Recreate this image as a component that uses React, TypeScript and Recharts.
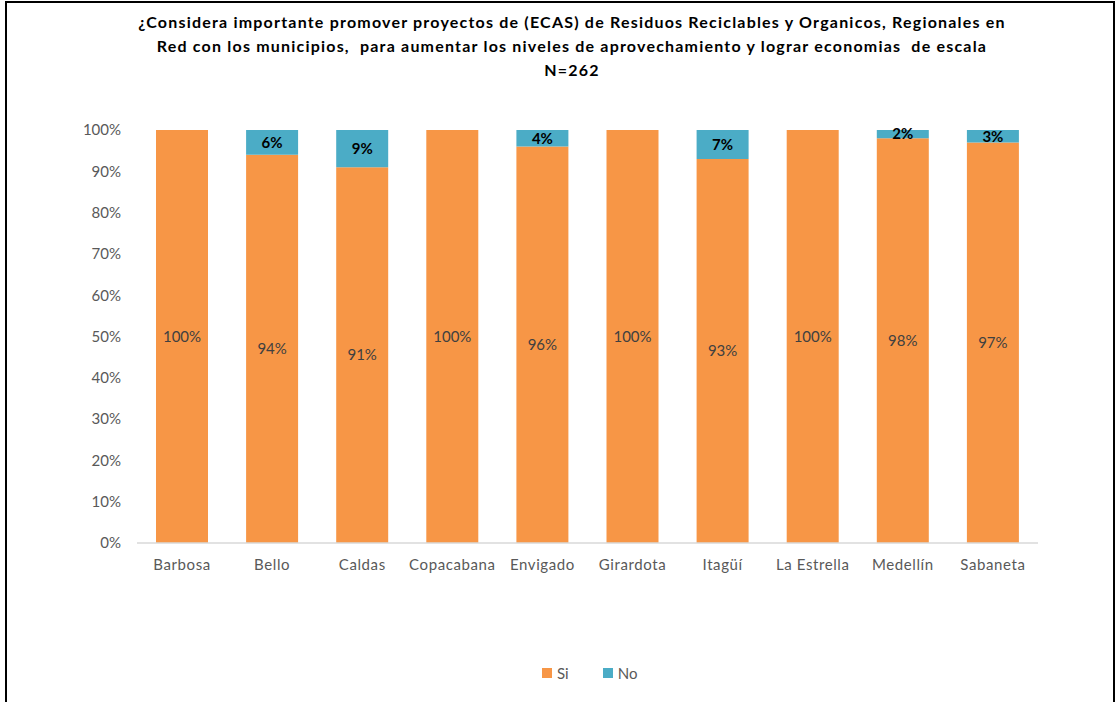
import { Bar, BarChart, LabelList, Legend, XAxis, YAxis } from 'recharts'

const categories = ['Barbosa', 'Bello', 'Caldas', 'Copacabana', 'Envigado', 'Girardota', 'Itagüí', 'La Estrella', 'Medellín', 'Sabaneta']
const siValues = [100, 94, 91, 100, 96, 100, 93, 100, 98, 97]
const noValues = [0, 6, 9, 0, 4, 0, 7, 0, 2, 3]
const yTicks = [0, 10, 20, 30, 40, 50, 60, 70, 80, 90, 100]
const seriesOrder = ['Si', 'No']
const titleLines = [
  '¿Considera importante promover proyectos de (ECAS) de Residuos Reciclables y Organicos, Regionales en',
  'Red con los municipios,  para aumentar los niveles de aprovechamiento y lograr economias  de escala',
  'N=262',
]

const FONT = 'Lato, "Open Sans", sans-serif'
const ORANGE = '#F79646'
const BLUE = '#4BACC6'
const GRAY = '#595959'

const data = categories.map((name, i) => ({ name, si: siValues[i], no: noValues[i] }))

export default function App() {
  return (
    <div style={{ position: 'absolute', left: 0, top: 0, width: 1115, height: 702, overflow: 'hidden', background: '#fff', fontFamily: FONT }}>
      <div style={{
        position: 'absolute',
        left: 5,
        top: 1,
        width: 1106,
        height: 740,
        border: '2px solid #000',
      }} />
      <div style={{
        position: 'absolute',
        left: 72,
        top: 10,
        width: 1000,
        textAlign: 'center',
        fontWeight: 700,
        fontSize: 16,
        letterSpacing: 1.2,
        lineHeight: '24px',
        color: '#000',
      }}>
        {titleLines.map(line => <div key={line} style={{ whiteSpace: 'pre' }}>{line}</div>)}
      </div>
      <BarChart
        width={1115}
        height={702}
        data={data}
        margin={{ top: 130, right: 77, bottom: 18, left: 77 }}
        barSize={52}
        style={{ position: 'absolute', left: 0, top: 0 }}
      >
        <XAxis
          dataKey="name"
          height={121}
          tickLine={false}
          axisLine={{ stroke: '#D9D9D9', strokeWidth: 1.5 }}
          tick={{ fontSize: 15, fill: GRAY, fontFamily: FONT, letterSpacing: 0.6 }}
          tickMargin={10}
        />
        <YAxis
          width={60}
          domain={[0, 100]}
          ticks={yTicks}
          tickFormatter={v => `${v}%`}
          axisLine={false}
          tickLine={false}
          tick={{ fontSize: 15, fill: GRAY, fontFamily: FONT }}
          tickMargin={10}
        />
        <Legend
          verticalAlign="bottom"
          height={20}
          content={({ payload }) => {
            const items = [...(payload ?? [])].sort(
              (a, b) => seriesOrder.indexOf(String(a.value)) - seriesOrder.indexOf(String(b.value)),
            )
            return (
              <div style={{ display: 'flex', justifyContent: 'flex-start', gap: 34, paddingLeft: 465, fontFamily: FONT, fontSize: 15, color: GRAY }}>
                {items.map(item => (
                  <span key={String(item.value)} style={{ display: 'flex', alignItems: 'center', gap: 5 }}>
                    <span style={{ width: 10, height: 10, background: item.color, display: 'inline-block' }} />
                    {item.value}
                  </span>
                ))}
              </div>
            )
          }}
        />
        <Bar dataKey="si" name="Si" stackId="a" fill={ORANGE} isAnimationActive={false}>
          <LabelList
            dataKey="si"
            position="center"
            formatter={(v: any) => `${v}%`}
            style={{ fontSize: 15, fill: '#404040', fontFamily: FONT }}
          />
        </Bar>
        <Bar dataKey="no" name="No" stackId="a" fill={BLUE} isAnimationActive={false}>
          <LabelList
            dataKey="no"
            position="center"
            formatter={(v: any) => (v > 0 ? `${v}%` : '')}
            style={{ fontSize: 15, fontWeight: 700, fill: '#000', fontFamily: FONT }}
          />
        </Bar>
      </BarChart>
    </div>
  )
}
